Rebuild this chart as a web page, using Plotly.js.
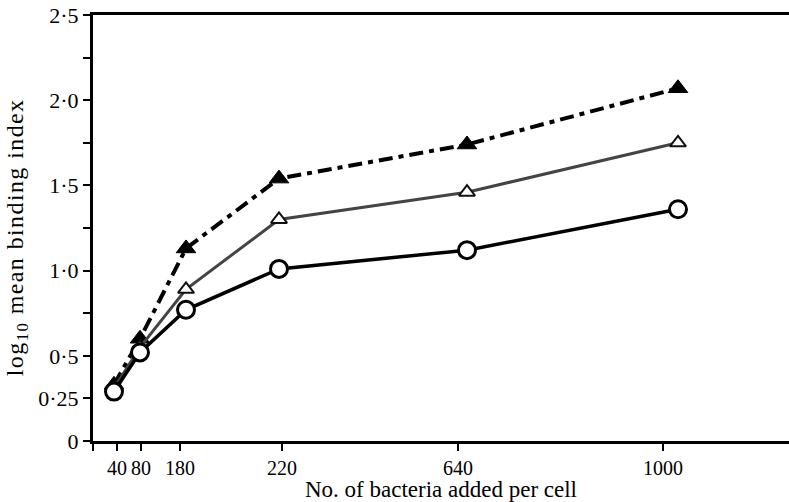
<!DOCTYPE html>
<html><head><meta charset="utf-8">
<script src="https://cdn.plot.ly/plotly-3.0.1.min.js"></script>
<style>body{margin:0;background:#fff}#c{width:789px;height:502px}
.annotation-text{letter-spacing:1.4px}</style>
</head><body><div id="c"></div>
<script>
// Horizontal positions on the figure's (hand-drawn, non-linear) bacteria scale
var xPoints = [21, 47, 93, 186, 374, 585];
var xTickPos = [0, 24, 48, 87, 189, 365, 570];
var xTickText = ['', '40', '80', '180', '220', '640', '1000'];
// log10 mean binding index
var seriesCircle = [0.29, 0.52, 0.77, 1.01, 1.12, 1.36];
var seriesOpenTri = [0.31, 0.55, 0.89, 1.30, 1.46, 1.75];
var seriesFilledTri = [0.33, 0.60, 1.13, 1.54, 1.74, 2.07];
var yTickVals = [0, 0.25, 0.5, 0.75, 1, 1.25, 1.5, 1.75, 2, 2.25, 2.5];
var yTickText = ['0', '0·25', '0·5', '', '1·0', '', '1·5', '', '2·0', '', '2·5'];
var yTitle = 'log<sub>10</sub> mean binding index';
var xTitle = 'No. of bacteria added per cell';

var fam = 'Liberation Serif, serif';
var traces = [
  {x: xPoints, y: seriesFilledTri, mode: 'lines+markers', type: 'scatter',
   line: {color: '#000', width: 4, dash: '14px,6px,5px,6px'},
   marker: {symbol: 'triangle-up', size: 17, color: '#000', line: {color: '#000', width: 1}}},
  {x: xPoints, y: seriesOpenTri, mode: 'lines+markers', type: 'scatter',
   line: {color: '#444', width: 3},
   marker: {symbol: 'triangle-up', size: 14, color: '#fff', line: {color: '#111', width: 2}}},
  {x: xPoints, y: seriesCircle, mode: 'lines+markers', type: 'scatter',
   line: {color: '#000', width: 3.5},
   marker: {symbol: 'circle', size: 17, color: '#fff', line: {color: '#000', width: 3}}}
];
var layout = {
  width: 789, height: 502,
  margin: {l: 93, r: 0, t: 15, b: 61},
  paper_bgcolor: '#fff', plot_bgcolor: '#fff',
  showlegend: false,
  font: {family: fam, color: '#000', size: 21},
  xaxis: {
    range: [0, 696], showgrid: false, zeroline: false,
    showline: true, linecolor: '#000', linewidth: 3, mirror: true,
    tickmode: 'array', tickvals: xTickPos, ticktext: xTickText,
    ticks: 'outside', ticklen: 7, tickwidth: 2, tickcolor: '#000',
    tickfont: {family: fam, size: 20, color: '#000'},
    title: {text: xTitle, standoff: 4,
            font: {family: fam, size: 23, color: '#000'}}
  },
  yaxis: {
    range: [0, 2.5], showgrid: false, zeroline: false,
    showline: true, linecolor: '#000', linewidth: 3, mirror: false,
    tickmode: 'array', tickvals: yTickVals, ticktext: yTickText,
    ticks: 'outside', ticklen: 7, tickwidth: 2, tickcolor: '#000',
    tickfont: {family: fam, size: 22, color: '#000'}
  },
  annotations: [{
    text: yTitle, textangle: -90, showarrow: false,
    xref: 'paper', yref: 'paper', x: -0.108, y: 0.478,
    xanchor: 'center', yanchor: 'middle',
    font: {family: fam, size: 24, color: '#000'}
  }]
};
Plotly.newPlot('c', traces, layout, {displayModeBar: false, staticPlot: true});
</script></body></html>
